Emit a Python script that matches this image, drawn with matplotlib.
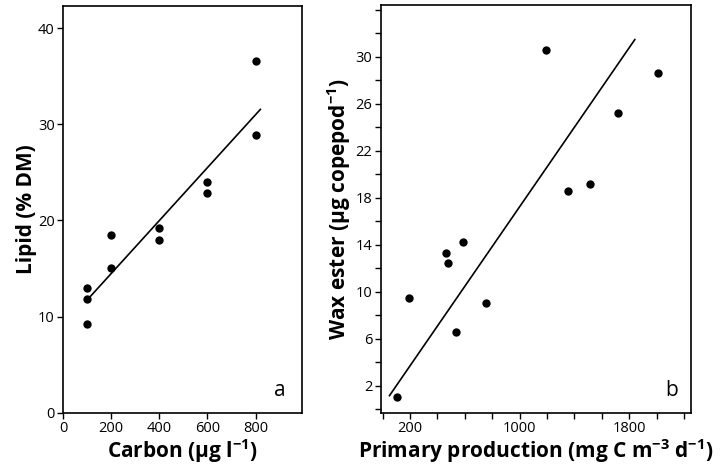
import numpy as np
import matplotlib
matplotlib.use("Agg")
import matplotlib.pyplot as plt
from matplotlib.ticker import MultipleLocator

plt.rcParams['font.family'] = ['Open Sans', 'DejaVu Sans']
plt.rcParams['mathtext.fontset'] = 'custom'
plt.rcParams['mathtext.rm'] = 'Open Sans'
plt.rcParams['mathtext.bf'] = 'Open Sans:bold'

# Panel a data
carbon = [100, 100, 100, 200, 200, 400, 400, 600, 600, 800, 800]
lipid = [13.0, 11.8, 9.2, 18.5, 15.0, 19.2, 18.0, 24.0, 22.8, 36.6, 28.9]
carbon_line_range = [110, 820]

# Panel b data
production = [103, 195, 463, 480, 536, 587, 752, 1190, 1356, 1511, 1721, 2010]
wax_ester = [1.0, 9.5, 13.3, 12.4, 6.6, 14.25, 9.0, 30.6, 18.6, 19.2, 25.2, 28.6]
production_line_range = [50, 1840]

a_xticks = [0, 200, 400, 600, 800]
a_yticks = [0, 10, 20, 30, 40]
b_xlabels = [200, 1000, 1800]
b_ylabels = [2, 6, 10, 14, 18, 22, 26, 30]

W, H = 726, 469
fig = plt.figure(figsize=(W/100, H/100), dpi=100)

def rect(l, t, r, b):
    return [l/W, 1 - b/H, (r-l)/W, (b-t)/H]

axa = fig.add_axes(rect(63, 6, 302, 412.7))
axb = fig.add_axes(rect(380.7, 5, 690.7, 412.7))

tick_fs = 10.5
lab_fs = 15

for ax in (axa, axb):
    for s in ax.spines.values():
        s.set_linewidth(1.2)
    ax.tick_params(direction='out', length=4, width=1.0, labelsize=tick_fs, pad=2)

# Panel a (regression of y on x)
axa.scatter(carbon, lipid, s=36, color='black', zorder=3, linewidths=0)
ka = np.polyfit(carbon, lipid, 1)
xa = np.array(carbon_line_range, dtype=float)
axa.plot(xa, np.polyval(ka, xa), color='black', lw=1.2)
axa.set_xlim(0, 993)
axa.set_ylim(0, 42.3)
axa.set_xticks(a_xticks)
axa.set_yticks(a_yticks)
axa.set_xlabel(r"Carbon (µg $\mathregular{l^{-1}}$)", fontsize=lab_fs, fontweight='bold', labelpad=1)
axa.set_ylabel("Lipid (% DM)", fontsize=lab_fs, fontweight='bold', labelpad=1)
axa.text(0.93, 0.041, "a", transform=axa.transAxes, fontsize=15, ha='right', va='baseline')

# Panel b (regression of x on y)
axb.scatter(production, wax_ester, s=36, color='black', zorder=3, linewidths=0)
kb = np.polyfit(wax_ester, production, 1)
xb = np.array(production_line_range, dtype=float)
axb.plot(xb, (xb - kb[1]) / kb[0], color='black', lw=1.2)
axb.xaxis.set_major_locator(MultipleLocator(200))
axb.yaxis.set_major_locator(MultipleLocator(2))
axb.set_xlim(-14, 2248)
axb.set_ylim(-0.3, 34.4)
axb.xaxis.set_major_formatter(plt.FuncFormatter(lambda v, p: str(int(round(v))) if int(round(v)) in b_xlabels else ''))
axb.yaxis.set_major_formatter(plt.FuncFormatter(lambda v, p: str(int(round(v))) if int(round(v)) in b_ylabels else ''))
axb.set_xlabel(r"Primary production (mg C m$\mathbf{^{-3}}$ d$\mathbf{^{-1}}$)", fontsize=lab_fs, fontweight='bold', labelpad=1)
axb.set_ylabel(r"Wax ester (µg copepod$\mathbf{^{-1}}$)", fontsize=lab_fs, fontweight='bold', labelpad=2)
axb.text(0.96, 0.041, "b", transform=axb.transAxes, fontsize=15, ha='right', va='baseline')

fig.savefig("out.png", dpi=100)
